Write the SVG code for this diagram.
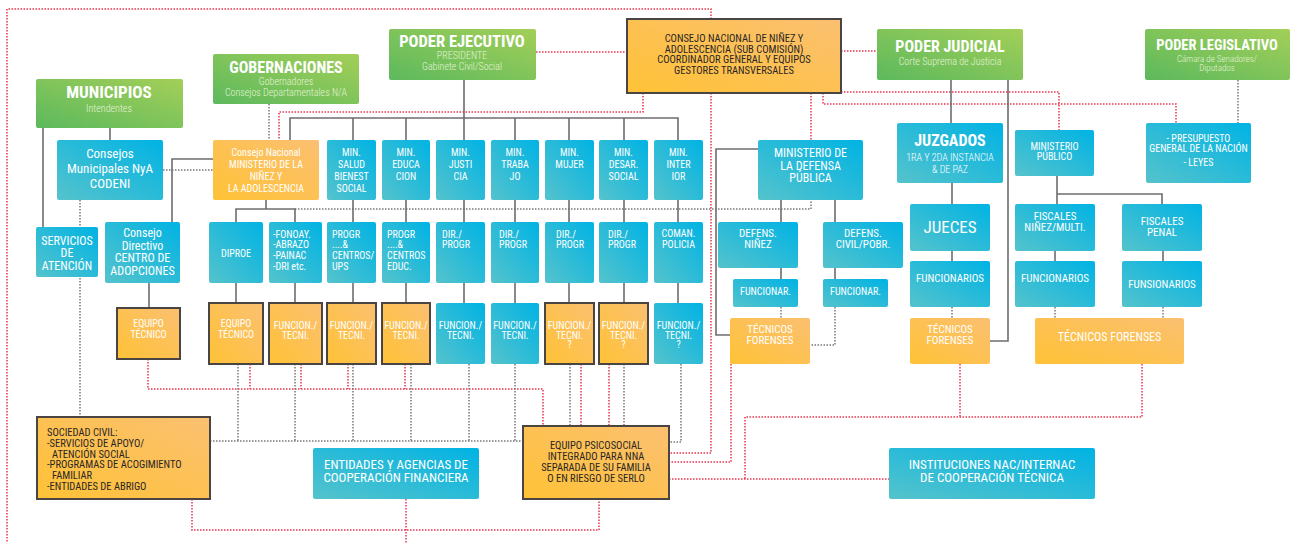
<svg xmlns="http://www.w3.org/2000/svg" width="1291" height="543" viewBox="0 0 1291 543">
<defs>
<linearGradient id="gG" x1="0" y1="1" x2="1" y2="0"><stop offset="0" stop-color="#5cb95d"/><stop offset="1" stop-color="#a3cf58"/></linearGradient>
<linearGradient id="gB" x1="0" y1="1" x2="1" y2="0"><stop offset="0" stop-color="#55c3cc"/><stop offset="1" stop-color="#00b3e4"/></linearGradient>
<linearGradient id="gO" x1="0" y1="1" x2="1" y2="0"><stop offset="0" stop-color="#ffc236"/><stop offset="1" stop-color="#fbc071"/></linearGradient>
<style>
.g{fill:url(#gG)}
.b{fill:url(#gB)}
.o{fill:url(#gO)}
.ob{fill:url(#gO);stroke:#4a4542;stroke-width:2}
text{font-family:"Roboto Condensed","DejaVu Sans Condensed","Liberation Sans Narrow",Roboto,sans-serif;font-stretch:condensed;text-anchor:middle;fill:#fff}
.t1{font-weight:bold;font-size:17px}
.st{font-size:10px;fill:#e4f3d6;font-weight:300}
.s10{font-size:10px}
.s11{font-size:11px}
.s12{font-size:12px}
.s13{font-size:13px}
.tf{font-size:11px}
.cn{font-size:10.5px}
.dk{fill:#2a2626}
.l{text-anchor:start}
.sl{stroke:#6d6c70;stroke-width:1.6;fill:none}
.rd{stroke:#e8344e;stroke-width:1.5;stroke-dasharray:1.5 1.5;fill:none}
.gd{stroke:#77767a;stroke-width:1.5;stroke-dasharray:1.5 1.5;fill:none}
</style>
</defs>
<rect width="1291" height="543" fill="#fff"/>
<g id="connectors">
<path class="rd" d="M711,19 V9 H7 V543"/>
<path class="rd" d="M536,52 H627"/>
<path class="rd" d="M841,51 H877"/>
<path class="rd" d="M643,93 V112 H279 V140"/>
<path class="rd" d="M711,93 V453 H669"/>
<path class="rd" d="M811,93 V140"/>
<path class="rd" d="M823,93 V104 H1176 V123"/>
<path class="rd" d="M841,92 H1059 V130"/>
<path class="rd" d="M148,359 V389 H543 V426 M250,364 V389 M301,364 V389 M348,364 V389 M405,364 V389"/>
<path class="rd" d="M581,364 V426 M609,364 V426"/>
<path class="rd" d="M731,364 V462 H669"/>
<path class="rd" d="M1142,364 V417 H745 V479 M960,364 V417 M669,479 H889"/>
<path class="rd" d="M192,499 V530 H599 V499 M406,499 V543"/>
<path class="gd" d="M269,104 V140"/>
<path class="gd" d="M1238,80 V123"/>
<path class="gd" d="M163,170 H213"/>
<path class="gd" d="M80,200 V417"/>
<path class="gd" d="M295,209 H811 V200"/>
<path class="gd" d="M210,441 H523 M238,364 V441 M295,364 V441 M353,364 V441 M411,364 V441 M469,364 V441 M515,364 V441"/>
<path class="gd" d="M570,364 V426 M624,364 V426"/>
<path class="gd" d="M681,364 V442 H669"/>
<path class="gd" d="M781,307 V318 M835,307 V345 H810"/>
<path class="gd" d="M952,307 V318 M1055,307 V318 M1163,307 V318"/>
<path class="sl" d="M43,128 V227 M110,128 V140 M213,159 H172 V222"/>
<path class="sl" d="M464,80 V118 M290,140 V118 H678 V140 M353,118 V140 M406,118 V140 M464,118 V140 M515,118 V140 M569,118 V140 M624,118 V140"/>
<path class="sl" d="M353,200 V222 M406,200 V222 M464,200 V222 M515,200 V222 M569,200 V222 M624,200 V222 M678,200 V222"/>
<path class="sl" d="M353,283 V303 M406,283 V303 M464,283 V303 M515,283 V303 M569,283 V303 M624,283 V303 M678,283 V303"/>
<path class="sl" d="M266,200 V209 M236,222 V209 H295 V222 M236,283 V303 M295,283 V303 M149,283 V308"/>
<path class="sl" d="M758,149 H716 V335 H730 M781,200 V222 M835,200 V222 M781,268 V279 M835,268 V279"/>
<path class="sl" d="M951,80 V123 M952,183 V204 M952,251 V261 M1008,80 V341 H990"/>
<path class="sl" d="M1057,176 V204 M1057,194 H1162 V204 M1055,251 V261 M1163,251 V261"/>
</g>
<g id="municipios"><rect class="g" x="36" y="79" width="147" height="49" rx="2"/><text class="t1" x="109" y="98">MUNICIPIOS</text><text class="st" x="109" y="112">Intendentes</text></g>
<g id="gobernaciones"><rect class="g" x="213" y="54" width="146" height="50" rx="2"/><text class="t1" x="286" y="73" style="font-size:16px">GOBERNACIONES</text><text class="st" x="286" y="85">Gobernadores</text><text class="st" x="286" y="96">Consejos Departamentales N/A</text></g>
<g id="poder-ejecutivo"><rect class="g" x="389" y="29" width="147" height="51" rx="2"/><text class="t1" x="462" y="47" style="font-size:16.5px">PODER EJECUTIVO</text><text class="st" x="462" y="59">PRESIDENTE</text><text class="st" x="462" y="70">Gabinete Civil/Social</text></g>
<g id="consejo-nacional"><rect class="ob" x="627" y="19" width="214" height="74"/><text class="cn dk" x="734" y="42">CONSEJO NACIONAL DE NIÑEZ Y</text><text class="cn dk" x="734" y="52.7">ADOLESCENCIA (SUB COMISIÓN)</text><text class="cn dk" x="734" y="63.4">COORDINADOR GENERAL Y EQUIPOS</text><text class="cn dk" x="734" y="74.1">GESTORES TRANSVERSALES</text></g>
<g id="poder-judicial"><rect class="g" x="877" y="29" width="146" height="51" rx="2"/><text class="t1" x="950" y="52" style="font-size:16px">PODER JUDICIAL</text><text class="st" x="950" y="65">Corte Suprema de Justicia</text></g>
<g id="poder-legislativo"><rect class="g" x="1145" y="29" width="145" height="51" rx="2"/><text class="t1" x="1217" y="50" style="font-size:14.5px">PODER LEGISLATIVO</text><text class="st" x="1217" y="62" style="font-size:9px">Cámara de Senadores/</text><text class="st" x="1217" y="71" style="font-size:9px">Diputados</text></g>
<g id="consejos-municipales"><rect class="b" x="57" y="140" width="106" height="60" rx="2"/><text class="s13" x="110" y="158">Consejos</text><text class="s13" x="110" y="173">Municipales NyA</text><text class="s13" x="110" y="188">CODENI</text></g>
<g id="ministerio-ninez"><rect class="o" x="213" y="140" width="106" height="60" rx="2"/><text class="s10" x="266" y="156">Consejo Nacional</text><text class="s10" x="266" y="168">MINISTERIO DE LA</text><text class="s10" x="266" y="180">NIÑEZ Y</text><text class="s10" x="266" y="192">LA ADOLESCENCIA</text></g>
<g id="min-salud"><rect class="b" x="327" y="140" width="49" height="60" rx="2"/><text class="s10" x="351.5" y="156">MIN.</text><text class="s10" x="351.5" y="168">SALUD</text><text class="s10" x="351.5" y="180">BIENEST</text><text class="s10" x="351.5" y="192">SOCIAL</text></g>
<g id="min-educacion"><rect class="b" x="382" y="140" width="48" height="60" rx="2"/><text class="s10" x="406" y="156">MIN.</text><text class="s10" x="406" y="168">EDUCA</text><text class="s10" x="406" y="180">CION</text></g>
<g id="min-justicia"><rect class="b" x="436" y="140" width="49" height="60" rx="2"/><text class="s10" x="460.5" y="156">MIN.</text><text class="s10" x="460.5" y="168">JUSTI</text><text class="s10" x="460.5" y="180">CIA</text></g>
<g id="min-trabajo"><rect class="b" x="491" y="140" width="48" height="60" rx="2"/><text class="s10" x="515" y="156">MIN.</text><text class="s10" x="515" y="168">TRABA</text><text class="s10" x="515" y="180">JO</text></g>
<g id="min-mujer"><rect class="b" x="545" y="140" width="49" height="60" rx="2"/><text class="s10" x="569.5" y="156">MIN.</text><text class="s10" x="569.5" y="168">MUJER</text></g>
<g id="min-desarrollo"><rect class="b" x="599" y="140" width="49" height="60" rx="2"/><text class="s10" x="623.5" y="156">MIN.</text><text class="s10" x="623.5" y="168">DESAR.</text><text class="s10" x="623.5" y="180">SOCIAL</text></g>
<g id="min-interior"><rect class="b" x="654" y="140" width="49" height="60" rx="2"/><text class="s10" x="678.5" y="156">MIN.</text><text class="s10" x="678.5" y="168">INTER</text><text class="s10" x="678.5" y="180">IOR</text></g>
<g id="defensa-publica"><rect class="b" x="758" y="140" width="105" height="60" rx="2"/><text class="s12" x="810.5" y="157">MINISTERIO DE</text><text class="s12" x="810.5" y="170">LA DEFENSA</text><text class="s12" x="810.5" y="182">PÚBLICA</text></g>
<g id="juzgados"><rect class="b" x="897" y="123" width="106" height="60" rx="2"/><text class="t1" x="950" y="146" style="font-size:16px">JUZGADOS</text><text class="s10" x="950" y="161" style="font-weight:300">1RA Y 2DA INSTANCIA</text><text class="s10" x="950" y="173" style="font-weight:300">&amp; DE PAZ</text></g>
<g id="ministerio-publico"><rect class="b" x="1015" y="130" width="79" height="46" rx="2"/><text class="s10" x="1054.5" y="150">MINISTERIO</text><text class="s10" x="1054.5" y="160">PÚBLICO</text></g>
<g id="presupuesto"><rect class="b" x="1146" y="123" width="105" height="60" rx="2"/><text class="s10" x="1198.5" y="142">- PRESUPUESTO</text><text class="s10" x="1198.5" y="152">GENERAL DE LA NACIÓN</text><text class="s10" x="1198.5" y="166">- LEYES</text></g>
<g id="servicios-atencion"><rect class="b" x="36" y="227" width="62" height="50" rx="2"/><text class="s12" x="67" y="245">SERVICIOS</text><text class="s12" x="67" y="257">DE</text><text class="s12" x="67" y="270">ATENCIÓN</text></g>
<g id="centro-adopciones"><rect class="b" x="105" y="222" width="75" height="61" rx="2"/><text class="s12" x="142.5" y="237">Consejo</text><text class="s12" x="142.5" y="250">Directivo</text><text class="s12" x="142.5" y="262">CENTRO DE</text><text class="s12" x="142.5" y="275">ADOPCIONES</text></g>
<g id="diproe"><rect class="b" x="209" y="222" width="54" height="61" rx="2"/><text class="s10" x="236" y="257">DIPROE</text></g>
<g id="fonoay"><rect class="b" x="269" y="222" width="53" height="61" rx="2"/><text class="s10 l" x="273" y="238">-FONOAY.</text><text class="s10 l" x="273" y="248">-ABRAZO</text><text class="s10 l" x="273" y="259">-PAINAC</text><text class="s10 l" x="273" y="270">-DRI etc.</text></g>
<g id="progr-salud"><rect class="b" x="327" y="222" width="49" height="61" rx="2"/><text class="s10 l" x="332" y="238">PROGR</text><text class="s10 l" x="332" y="248">....&amp;</text><text class="s10 l" x="332" y="259">CENTROS/</text><text class="s10 l" x="332" y="270">UPS</text></g>
<g id="progr-educ"><rect class="b" x="382" y="222" width="48" height="61" rx="2"/><text class="s10 l" x="387" y="238">PROGR</text><text class="s10 l" x="387" y="248">....&amp;</text><text class="s10 l" x="387" y="259">CENTROS</text><text class="s10 l" x="387" y="270">EDUC.</text></g>
<g id="dir-justicia"><rect class="b" x="436" y="222" width="49" height="61" rx="2"/><text class="s10 l" x="442" y="238">DIR./</text><text class="s10 l" x="442" y="248">PROGR</text></g>
<g id="dir-trabajo"><rect class="b" x="491" y="222" width="48" height="61" rx="2"/><text class="s10 l" x="499" y="238">DIR./</text><text class="s10 l" x="499" y="248">PROGR</text></g>
<g id="dir-mujer"><rect class="b" x="545" y="222" width="49" height="61" rx="2"/><text class="s10 l" x="556" y="238">DIR./</text><text class="s10 l" x="556" y="248">PROGR</text></g>
<g id="dir-desarrollo"><rect class="b" x="599" y="222" width="49" height="61" rx="2"/><text class="s10 l" x="608" y="238">DIR./</text><text class="s10 l" x="608" y="248">PROGR</text></g>
<g id="coman-policia"><rect class="b" x="654" y="222" width="49" height="61" rx="2"/><text class="s10" x="678.5" y="237">COMAN.</text><text class="s10" x="678.5" y="248">POLICIA</text></g>
<g id="defens-ninez"><rect class="b" x="718" y="222" width="80" height="46" rx="2"/><text class="s11" x="758" y="237">DEFENS.</text><text class="s11" x="758" y="248">NIÑEZ</text></g>
<g id="defens-civil"><rect class="b" x="823" y="222" width="80" height="46" rx="2"/><text class="s11" x="863" y="237">DEFENS.</text><text class="s11" x="863" y="248">CIVIL/POBR.</text></g>
<g id="funcionar-ninez"><rect class="b" x="733" y="279" width="65" height="28" rx="2"/><text class="s10" x="765.5" y="295">FUNCIONAR.</text></g>
<g id="funcionar-civil"><rect class="b" x="823" y="279" width="65" height="28" rx="2"/><text class="s10" x="855.5" y="295">FUNCIONAR.</text></g>
<g id="jueces"><rect class="b" x="910" y="204" width="80" height="47" rx="2"/><text x="950" y="233" style="font-size:17px">JUECES</text></g>
<g id="funcionarios-juzgados"><rect class="b" x="910" y="261" width="80" height="46" rx="2"/><text class="s11" x="950" y="282">FUNCIONARIOS</text></g>
<g id="tecnicos-judicial"><rect class="o" x="910" y="318" width="80" height="46" rx="2"/><text class="tf" x="950" y="333">TÉCNICOS</text><text class="tf" x="950" y="344">FORENSES</text></g>
<g id="fiscales-ninez"><rect class="b" x="1015" y="204" width="80" height="47" rx="2"/><text class="s11" x="1055" y="220">FISCALES</text><text class="s11" x="1055" y="231">NIÑEZ/MULTI.</text></g>
<g id="fiscales-penal"><rect class="b" x="1122" y="204" width="80" height="47" rx="2"/><text class="s11" x="1162" y="225">FISCALES</text><text class="s11" x="1162" y="236">PENAL</text></g>
<g id="funcionarios-fiscales"><rect class="b" x="1015" y="261" width="80" height="46" rx="2"/><text class="s11" x="1055" y="282">FUNCIONARIOS</text></g>
<g id="funsionarios-penal"><rect class="b" x="1122" y="261" width="80" height="46" rx="2"/><text class="s11" x="1162" y="288">FUNSIONARIOS</text></g>
<g id="tecnicos-fiscalia"><rect class="o" x="1035" y="318" width="149" height="46" rx="2"/><text class="s12" x="1109.5" y="341">TÉCNICOS FORENSES</text></g>
<g id="tecnicos-defensa"><rect class="o" x="730" y="318" width="80" height="46" rx="2"/><text class="tf" x="770" y="333">TÉCNICOS</text><text class="tf" x="770" y="344">FORENSES</text></g>
<g id="equipo-adopciones"><rect class="ob" x="117" y="308" width="63" height="51"/><text class="s10" x="148.5" y="327">EQUIPO</text><text class="s10" x="148.5" y="338">TÉCNICO</text></g>
<g id="equipo-diproe"><rect class="ob" x="209" y="303" width="54" height="61"/><text class="s10" x="236" y="327">EQUIPO</text><text class="s10" x="236" y="338">TÉCNICO</text></g>
<g id="funcion-fonoay"><rect class="ob" x="269" y="303" width="53" height="61"/><text class="s10" x="295.5" y="329">FUNCION./</text><text class="s10" x="295.5" y="339">TECNI.</text></g>
<g id="funcion-salud"><rect class="ob" x="327" y="303" width="49" height="61"/><text class="s10" x="351.5" y="329">FUNCION./</text><text class="s10" x="351.5" y="339">TECNI.</text></g>
<g id="funcion-educ"><rect class="ob" x="382" y="303" width="48" height="61"/><text class="s10" x="406" y="329">FUNCION./</text><text class="s10" x="406" y="339">TECNI.</text></g>
<g id="funcion-justicia"><rect class="b" x="436" y="303" width="49" height="61" rx="2"/><text class="s10" x="460.5" y="329">FUNCION./</text><text class="s10" x="460.5" y="339">TECNI.</text></g>
<g id="funcion-trabajo"><rect class="b" x="491" y="303" width="48" height="61" rx="2"/><text class="s10" x="515" y="329">FUNCION./</text><text class="s10" x="515" y="339">TECNI.</text></g>
<g id="funcion-mujer"><rect class="ob" x="545" y="303" width="49" height="61"/><text class="s10" x="569.5" y="329">FUNCION./</text><text class="s10" x="569.5" y="339">TECNI.</text><text class="s10" x="569.5" y="348">?</text></g>
<g id="funcion-desarrollo"><rect class="ob" x="599" y="303" width="49" height="61"/><text class="s10" x="623.5" y="329">FUNCION./</text><text class="s10" x="623.5" y="339">TECNI.</text><text class="s10" x="623.5" y="348">?</text></g>
<g id="funcion-interior"><rect class="b" x="654" y="303" width="49" height="61" rx="2"/><text class="s10" x="678.5" y="329">FUNCION./</text><text class="s10" x="678.5" y="339">TECNI.</text><text class="s10" x="678.5" y="348">?</text></g>
<g id="sociedad-civil"><rect class="ob" x="37" y="417" width="173" height="82"/><text class="cn dk l" x="47" y="436">SOCIEDAD CIVIL:</text><text class="cn dk l" x="47" y="446.8">-SERVICIOS DE APOYO/</text><text class="cn dk l" x="52" y="457.6">ATENCIÓN SOCIAL</text><text class="cn dk l" x="47" y="468.4">-PROGRAMAS DE ACOGIMIENTO</text><text class="cn dk l" x="52" y="479.2">FAMILIAR</text><text class="cn dk l" x="47" y="490">-ENTIDADES DE ABRIGO</text></g>
<g id="entidades-cooperacion"><rect class="b" x="313" y="448" width="166" height="51" rx="2"/><text class="s13" x="396" y="469">ENTIDADES Y AGENCIAS DE</text><text class="s13" x="396" y="482">COOPERACIÓN FINANCIERA</text></g>
<g id="equipo-psicosocial"><rect class="ob" x="523" y="426" width="146" height="73"/><text class="cn dk" x="596" y="449">EQUIPO PSICOSOCIAL</text><text class="cn dk" x="596" y="460">INTEGRADO PARA NNA</text><text class="cn dk" x="596" y="471">SEPARADA DE SU FAMILIA</text><text class="cn dk" x="596" y="482">O EN RIESGO DE SERLO</text></g>
<g id="instituciones"><rect class="b" x="889" y="448" width="206" height="51" rx="2"/><text class="s13" x="992" y="469">INSTITUCIONES NAC/INTERNAC</text><text class="s13" x="992" y="482">DE COOPERACIÓN TÉCNICA</text></g>
</svg>
